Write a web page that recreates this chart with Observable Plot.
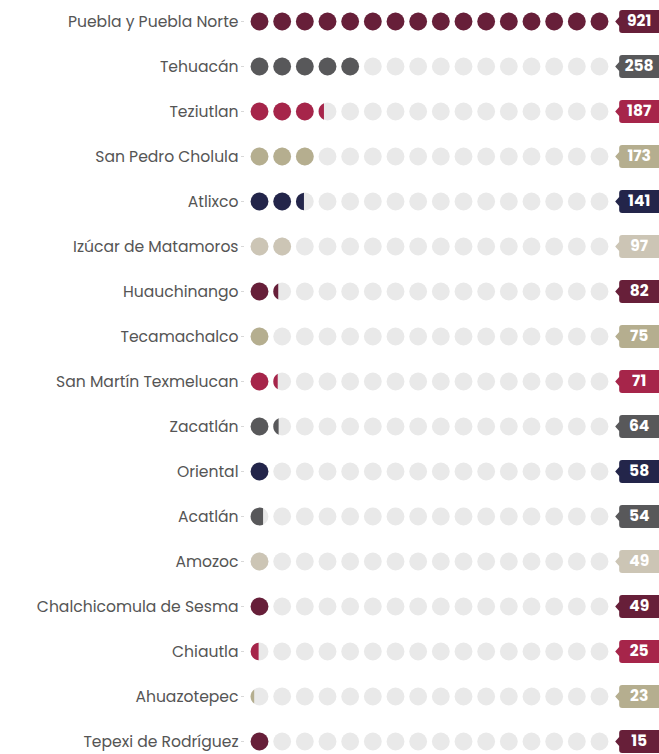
<!DOCTYPE html>
<html>
<head>
<meta charset="utf-8">
<script src="https://cdn.jsdelivr.net/npm/d3@7"></script>
<script src="https://cdn.jsdelivr.net/npm/@observablehq/plot@0.6"></script>
<style>
  html, body { margin: 0; padding: 0; background: #fff; }
  #chart svg { display: block; }
</style>
</head>
<body>
<div id="chart"></div>
<script>
// ---- data ----
const names = [
  "Puebla y Puebla Norte", "Tehuacán", "Teziutlan", "San Pedro Cholula", "Atlixco",
  "Izúcar de Matamoros", "Huauchinango", "Tecamachalco", "San Martín Texmelucan",
  "Zacatlán", "Oriental", "Acatlán", "Amozoc", "Chalchicomula de Sesma",
  "Chiautla", "Ahuazotepec", "Tepexi de Rodríguez"
];
const values = [921, 258, 187, 173, 141, 97, 82, 75, 71, 64, 58, 54, 49, 49, 25, 23, 15];
const groups = ["vino", "gris", "rojo", "arena", "azul", "crema", "vino", "arena",
  "rojo", "gris", "azul", "gris", "crema", "vino", "rojo", "arena", "vino"];
// number of fully coloured dots and the filled share of the next dot
const fullDots = [16, 5, 3, 3, 2, 2, 1, 1, 1, 1, 1, 0, 1, 1, 0, 0, 1];
const partialFill = [0, 0, 0.3, 0, 0.45, 0, 0.28, 0, 0.25, 0.3, 0, 0.7, 0, 0, 0.45, 0.2, 0];
const nDots = 16;

// ---- styles ----
const groupDomain = ["vino", "gris", "rojo", "arena", "azul", "crema"];
const palette = ["#671f39", "#58585a", "#a6254a", "#b5ae8f", "#23254a", "#ccc5b5"];
const emptyColor = "#e9e9e9";
const font = "Poppins, Inter, 'Open Sans', sans-serif";

// ---- derived tables ----
const rows = names.map((name, i) => ({name, value: values[i], group: groups[i], full: fullDots[i], part: partialFill[i]}));
const slots = rows.flatMap(r => d3.range(nDots).map(k => ({name: r.name, group: r.group, k, filled: k < r.full})));

// circular segment (left part of a disc) as a custom symbol
function segment(f) {
  return {
    draw(ctx, size) {
      const r = Math.sqrt(size / Math.PI);
      const c = -r + 2 * r * f;
      const t = Math.acos(Math.max(-1, Math.min(1, c / r)));
      ctx.moveTo(r * Math.cos(t), r * Math.sin(t));
      ctx.arc(0, 0, r, t, 2 * Math.PI - t);
      ctx.closePath();
    }
  };
}

// value tag: rounded box with a small arrow on its left
const tagSymbol = {
  draw(ctx) {
    const x0 = -3, x1 = 42, h = 11.5, rr = 3;
    ctx.moveTo(x0 + rr, -h);
    ctx.lineTo(x1 - rr, -h);
    ctx.arcTo(x1, -h, x1, -h + rr, rr);
    ctx.lineTo(x1, h - rr);
    ctx.arcTo(x1, h, x1 - rr, h, rr);
    ctx.lineTo(x0 + rr, h);
    ctx.arcTo(x0, h, x0, h - rr, rr);
    ctx.lineTo(x0, 4.5);
    ctx.lineTo(x0 - 4, 0);
    ctx.lineTo(x0, -4.5);
    ctx.lineTo(x0, -h + rr);
    ctx.arcTo(x0, -h, x0 + rr, -h, rr);
    ctx.closePath();
  }
};

const partialMarks = rows.filter(r => r.part > 0).map(r =>
  Plot.dot([r], {x: d => d.full, y: "name", r: 8.9, fill: "group", symbol: segment(r.part)})
);

const chart = Plot.plot({
  width: 659,
  height: 754,
  marginLeft: 244,
  marginRight: 60,
  marginTop: 21,
  marginBottom: 13,
  insetLeft: 15,
  style: {fontFamily: font, background: "#fff", overflow: "visible"},
  x: {domain: [0, nDots - 1], axis: null},
  y: {type: "point", domain: names, padding: 0, axis: null},
  color: {type: "ordinal", domain: groupDomain, range: palette},
  marks: [
    Plot.axisY({label: null, tickSize: 3, tickPadding: 3, stroke: "#d8d8d8", fill: "#555", fontSize: 15.6, fontFamily: font}),
    Plot.dot(slots, {x: "k", y: "name", r: 8.9, fill: emptyColor}),
    Plot.dot(slots.filter(d => d.filled), {x: "k", y: "name", r: 8.9, fill: "group"}),
    ...partialMarks,
    Plot.dot(rows, {x: () => nDots, y: "name", r: 10, fill: "group", symbol: tagSymbol}),
    Plot.text(rows, {x: () => nDots, y: "name", text: "value", dx: 17, fill: "white", fontWeight: 700, fontSize: 15.5, textAnchor: "middle"})
  ]
});
document.getElementById("chart").appendChild(chart);
</script>
</body>
</html>
